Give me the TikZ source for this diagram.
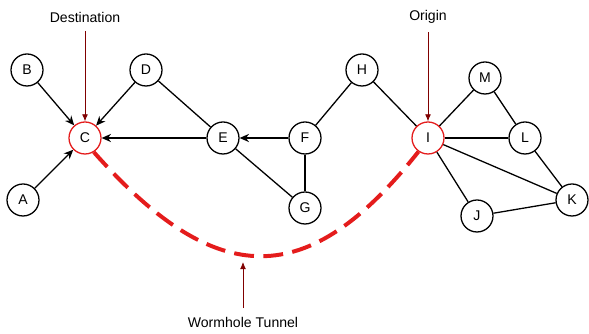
\documentclass[tikz,border=0pt]{standalone}
\usepackage{fontspec}
\setmainfont{Liberation Sans}
\usepackage{xcolor}
\usepackage{tikz}
\usetikzlibrary{arrows.meta, positioning}

\definecolor{hubred}{RGB}{228,28,28}
\definecolor{tipred}{RGB}{128,0,0}

\begin{document}
\begin{tikzpicture}[x=0.3cm, y=-0.3cm,
		vertex/.style={circle, draw, line width=1.1pt, fill=white, minimum size=0.96cm, inner sep=0pt, font=\fontsize{12}{14}\selectfont},
		hub/.style={vertex, draw=hubred},
		link/.style={line width=1.1pt},
		pointer/.style={-{Latex[length=6pt, width=5pt]}, tipred, line width=0.7pt},
		caption/.style={font=\fontsize{12}{14}\selectfont}]
		\useasboundingbox (0,0) rectangle (58.9,33.4);
		% Graph nodes
		\node[vertex] (B) at (2.7,7.0) {B};
		\node[vertex] (D) at (14.6,7.0) {D};
		\node[hub] (C) at (8.5,13.8) {C};
		\node[vertex] (A) at (2.3,20.0) {A};
		\node[vertex] (E) at (22.3,13.8) {E};
		\node[vertex] (F) at (30.5,13.8) {F};
		\node[vertex] (G) at (30.5,20.8) {G};
		\node[vertex] (H) at (36.2,7.0) {H};
		\node[hub] (I) at (42.8,13.8) {I};
		\node[vertex] (M) at (48.5,7.8) {M};
		\node[vertex] (L) at (52.5,13.8) {L};
		\node[vertex] (K) at (57.2,20.0) {K};
		\node[vertex] (J) at (47.7,21.6) {J};

		% Directed edges towards C
		\draw[link, -{Stealth[length=8pt, width=7pt]}] (B) -- (C);
		\draw[link, -{Stealth[length=8pt, width=7pt]}] (D) -- (C);
		\draw[link, -{Stealth[length=8pt, width=7pt]}] (A) -- (C);
		\draw[link, -{Stealth[length=8pt, width=7pt]}] (E) -- (C);
		\draw[link, -{Stealth[length=8pt, width=7pt]}] (F) -- (E);

		% Plain edges
		\draw[link] (D) -- (E);
		\draw[link] (E) -- (G);
		\draw[link] (F) -- (G);
		\draw[link] (F) -- (H);
		\draw[link] (H) -- (I);
		\draw[link] (I) -- (M);
		\draw[link] (M) -- (L);
		\draw[link] (I) -- (L);
		\draw[link] (I) -- (K);
		\draw[link] (I) -- (J);
		\draw[link] (L) -- (K);
		\draw[link] (J) -- (K);

		% Wormhole
		\draw[hubred, line width=3.4pt, dash pattern=on 17pt off 8pt]
			(C.-58) .. controls (21.7,29.1) and (30.8,29.1) .. (I.-125);

		% Labels
		\node[caption] (dest) at (8.5,1.7) {Destination};
		\node[caption] (orig) at (42.8,1.7) {Origin};
		\node[caption] (tunnel) at (24.3,32.2) {Wormhole Tunnel};
		\coordinate (dip) at (24.3,26.2);

		\draw[pointer, shorten <=4pt] (dest.south) -- (C);
		\draw[pointer, shorten <=4pt] (orig.south) -- (I);
		\draw[pointer, shorten <=4pt] (tunnel.north) -- (dip);
	\end{tikzpicture}
\end{document}
